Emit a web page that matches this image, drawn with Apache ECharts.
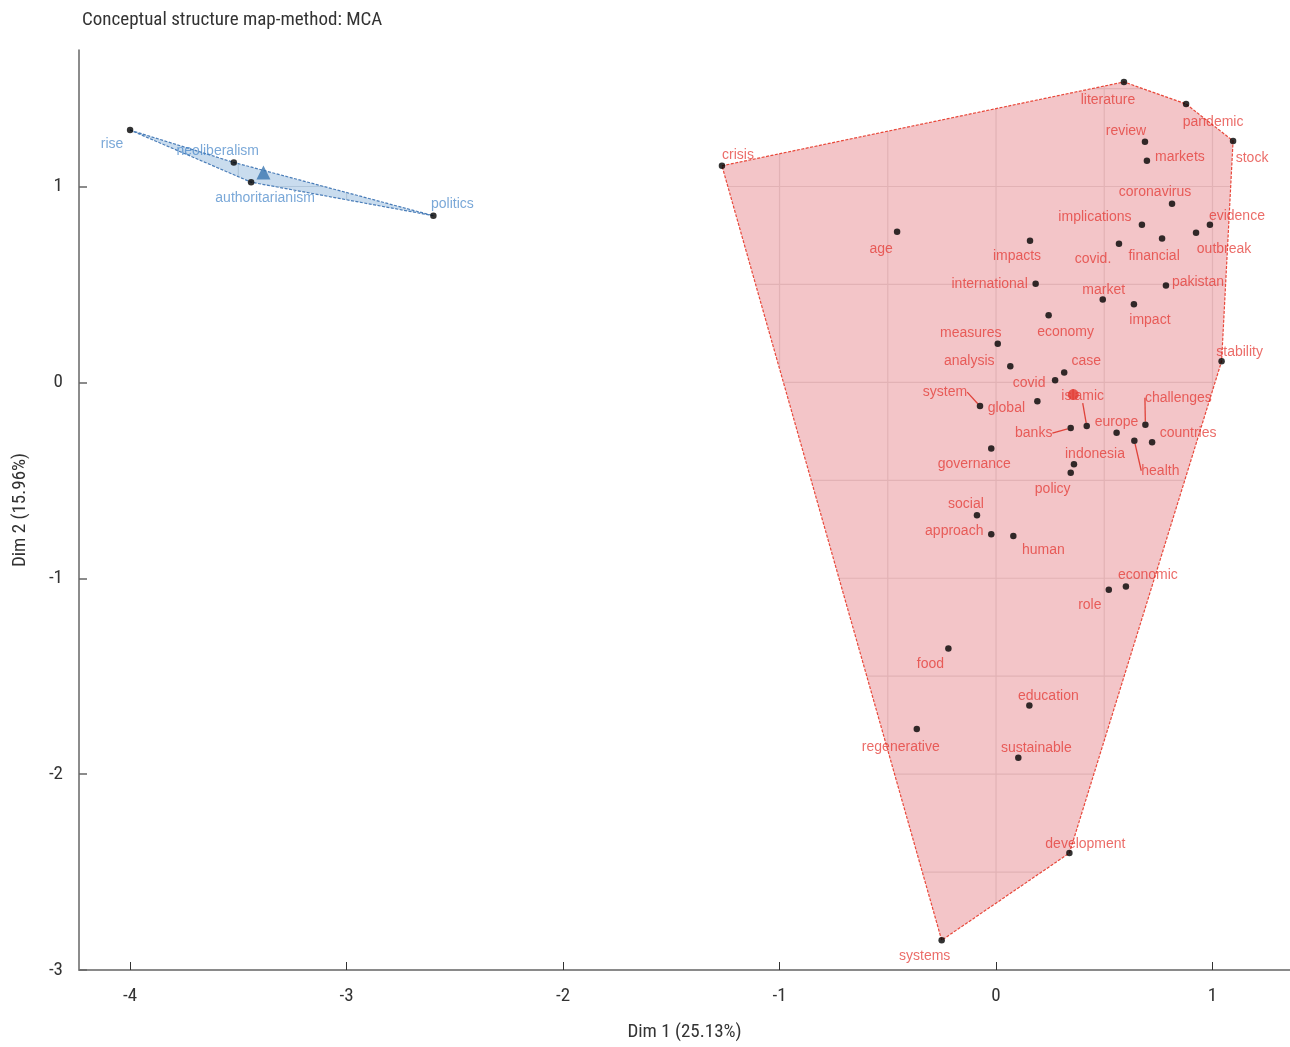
<!DOCTYPE html>
<html>
<head>
<meta charset="utf-8">
<script src="https://cdn.jsdelivr.net/npm/echarts@6/dist/echarts.min.js"></script>
<style>
html,body{margin:0;padding:0;background:#fff;}
#chart{width:1290px;height:1047px;}
</style>
</head>
<body>
<div id="chart"></div>
<script>
// ---- data ----
const titleText = 'Conceptual structure map-method: MCA';
const xName = 'Dim 1 (25.13%)';
const yName = 'Dim 2 (15.96%)';
const xTicks = [-4, -3, -2, -1, 0, 1];
const yTicks = [-3, -2, -1, 0, 1];

const blueWords = ['rise', 'neoliberalism', 'authoritarianism', 'politics'];
const blueX = [-4.000, -3.521, -3.441, -2.599];
const blueY = [1.288, 1.123, 1.022, 0.851];
const blueHull = ['rise', 'neoliberalism', 'politics', 'authoritarianism'];
const blueCentroid = [-3.384, 1.071];

const redWords = ['literature','pandemic','stock','review','markets','crisis','coronavirus','evidence','implications','outbreak','financial','covid.','impacts','age','international','pakistan','market','impact','economy','measures','analysis','case','covid','stability','system','global','islamic','banks','europe','challenges','countries','health','indonesia','policy','governance','social','approach','human','role','economic','food','education','regenerative','sustainable','development','systems'];
const redX = [0.591,0.878,1.095,0.688,0.697,-1.266,0.813,0.988,0.674,0.924,0.767,0.568,0.157,-0.457,0.183,0.785,0.493,0.637,0.243,0.008,0.066,0.315,0.273,1.042,-0.074,0.191,0.419,0.345,0.557,0.690,0.721,0.639,0.360,0.345,-0.022,-0.088,-0.022,0.080,0.521,0.600,-0.220,0.154,-0.366,0.103,0.339,-0.251];
const redY = [1.534,1.421,1.233,1.228,1.131,1.106,0.912,0.805,0.805,0.764,0.734,0.708,0.723,0.769,0.504,0.495,0.423,0.399,0.343,0.197,0.083,0.050,0.011,0.108,-0.121,-0.096,-0.223,-0.233,-0.257,-0.216,-0.305,-0.298,-0.418,-0.461,-0.338,-0.678,-0.775,-0.784,-1.059,-1.042,-1.358,-1.650,-1.769,-1.917,-2.403,-2.848];
const redHull = ['crisis','literature','pandemic','stock','stability','development','systems'];
const redCentroid = [0.357, -0.062];

// ---- label placement (pixel offsets of label centre from its point) ----
const labelOffset = {
  rise:[-18,14], neoliberalism:[-16,-11], authoritarianism:[14,16], politics:[19,-12],
  literature:[-16,18], pandemic:[27,18], stock:[19,17], review:[-19,-11], markets:[33,-4],
  crisis:[16,-11], coronavirus:[-17,-12], evidence:[27,-9], implications:[-47,-8],
  outbreak:[28,16], financial:[-8,18], 'covid.':[-26,15], impacts:[-13,15], age:[-16,17],
  international:[-46,0], pakistan:[32,-3], market:[1,-9], impact:[16,16], economy:[17,17],
  measures:[-27,-11], analysis:[-41,-5], 'case':[22,-11], covid:[-26,3], stability:[18,-9],
  system:[-35,-14], global:[-31,7], islamic:[-4,-30], banks:[-37,5], europe:[0,-11],
  challenges:[33,-27], countries:[36,-9], health:[26,30], indonesia:[21,-10], policy:[-18,16],
  governance:[-17,16], social:[-11,-11], approach:[-37,-3], human:[30,14], role:[-19,15],
  economic:[22,-11], food:[-18,16], education:[19,-9], regenerative:[-16,18],
  sustainable:[18,-10], development:[16,-9], systems:[-17,16]
};
const leaderWords = ['system','islamic','banks','challenges','health'];

const condFont = "'Liberation Sans Narrow','Roboto Condensed','DejaVu Sans Condensed','Roboto',sans-serif";
const labelFont = "'Liberation Sans','Arial',sans-serif";

function hullSeries(words, xs, ys, hull, fill, gridColor, stroke) {
  return {
    type: 'custom',
    coordinateSystem: 'cartesian2d',
    silent: true,
    z: 1,
    data: [[0, 0]],
    renderItem: function (params, api) {
      const pts = hull.map(function (n) {
        const i = words.indexOf(n);
        return api.coord([xs[i], ys[i]]);
      });
      const children = [{ type: 'polygon', shape: { points: pts }, style: { fill: fill, stroke: null } }];
      const n = pts.length;
      // grid lines at 0.5 steps, visible only inside the hull
      for (let k = -10; k <= 4; k++) {
        const v = k * 0.5;
        const X = api.coord([v, 0])[0];
        const Y = api.coord([0, v])[1];
        const ysCut = [], xsCut = [];
        for (let i = 0; i < n; i++) {
          const a = pts[i], b = pts[(i + 1) % n];
          if ((a[0] - X) * (b[0] - X) < 0) ysCut.push(a[1] + (b[1] - a[1]) * (X - a[0]) / (b[0] - a[0]));
          if ((a[1] - Y) * (b[1] - Y) < 0) xsCut.push(a[0] + (b[0] - a[0]) * (Y - a[1]) / (b[1] - a[1]));
        }
        if (ysCut.length >= 2) {
          children.push({ type: 'line', shape: { x1: X, y1: Math.min.apply(null, ysCut), x2: X, y2: Math.max.apply(null, ysCut) }, style: { stroke: gridColor, lineWidth: 1.2 } });
        }
        if (xsCut.length >= 2) {
          children.push({ type: 'line', shape: { x1: Math.min.apply(null, xsCut), y1: Y, x2: Math.max.apply(null, xsCut), y2: Y }, style: { stroke: gridColor, lineWidth: 1.2 } });
        }
      }
      children.push({ type: 'polygon', shape: { points: pts }, style: { fill: null, stroke: stroke, lineWidth: 1.2, lineDash: [3, 1.5] } });
      return { type: 'group', children: children };
    }
  };
}

function wordSeries(words, xs, ys, labelColor, lineColor) {
  return {
    type: 'scatter',
    z: 3,
    symbol: 'circle',
    symbolSize: 6.5,
    itemStyle: { color: '#000' },
    data: words.map(function (w, i) {
      const d = { name: w, value: [xs[i], ys[i]] };
      if (leaderWords.indexOf(w) >= 0) d.labelLine = { show: true };
      return d;
    }),
    label: {
      show: true,
      position: 'inside',
      formatter: '{b}',
      color: labelColor,
      fontFamily: labelFont,
      fontSize: 14
    },
    labelLine: { show: false, lineStyle: { color: lineColor, width: 1.3 } },
    labelLayout: function (p) {
      const o = labelOffset[words[p.dataIndex]] || [0, 0];
      return { dx: o[0], dy: o[1] };
    }
  };
}

const chart = echarts.init(document.getElementById('chart'), null, { renderer: 'canvas' });
chart.setOption({
  backgroundColor: '#fff',
  animation: false,
  title: {
    text: titleText, left: 77, top: 6,
    textStyle: { fontFamily: condFont, fontSize: 19, fontWeight: 'normal', color: '#333' }
  },
  grid: { left: 79, right: 0, top: 50, bottom: 76, containLabel: false },
  xAxis: {
    type: 'value', min: -4.236, max: 1.358,
    name: xName, nameLocation: 'middle', nameGap: 53,
    nameTextStyle: { fontFamily: condFont, fontSize: 19, color: '#333' },
    axisLine: { show: true, onZero: false, lineStyle: { color: '#8a8a8a', width: 2 } },
    axisTick: { show: true, inside: true, length: 8, customValues: xTicks, lineStyle: { color: '#333', width: 1 } },
    axisLabel: { customValues: xTicks, margin: 17, fontFamily: condFont, fontSize: 19, color: '#333', formatter: function (v) { return String(v); } },
    splitLine: { show: false }
  },
  yAxis: {
    type: 'value', min: -3, max: 1.697,
    name: yName, nameLocation: 'middle', nameGap: 49,
    nameTextStyle: { fontFamily: condFont, fontSize: 19, color: '#333' },
    axisLine: { show: true, onZero: false, lineStyle: { color: '#666', width: 1.5 } },
    axisTick: { show: true, inside: true, length: 8, customValues: yTicks, lineStyle: { color: '#666', width: 1.5 } },
    axisLabel: { customValues: yTicks, margin: 16, fontFamily: condFont, fontSize: 19, color: '#333', formatter: function (v) { return String(v); } },
    splitLine: { show: false }
  },
  series: [
    hullSeries(redWords, redX, redY, redHull, '#f3c5c8', '#e2b2b5', '#e8483a'),
    hullSeries(blueWords, blueX, blueY, blueHull, '#c9dcee', '#b0c6db', '#4a7db8'),
    wordSeries(redWords, redX, redY, 'rgba(226,45,40,0.88)', '#e0433a'),
    wordSeries(blueWords, blueX, blueY, 'rgba(60,128,198,0.85)', '#4a86c5'),
    { type: 'scatter', z: 4, symbol: 'circle', symbolSize: 11, itemStyle: { color: '#e2382f' }, data: [redCentroid], silent: true },
    { type: 'scatter', z: 4, symbol: 'triangle', symbolSize: 14, itemStyle: { color: '#3a76b0' }, data: [blueCentroid], silent: true }
  ]
});
</script>
</body>
</html>
